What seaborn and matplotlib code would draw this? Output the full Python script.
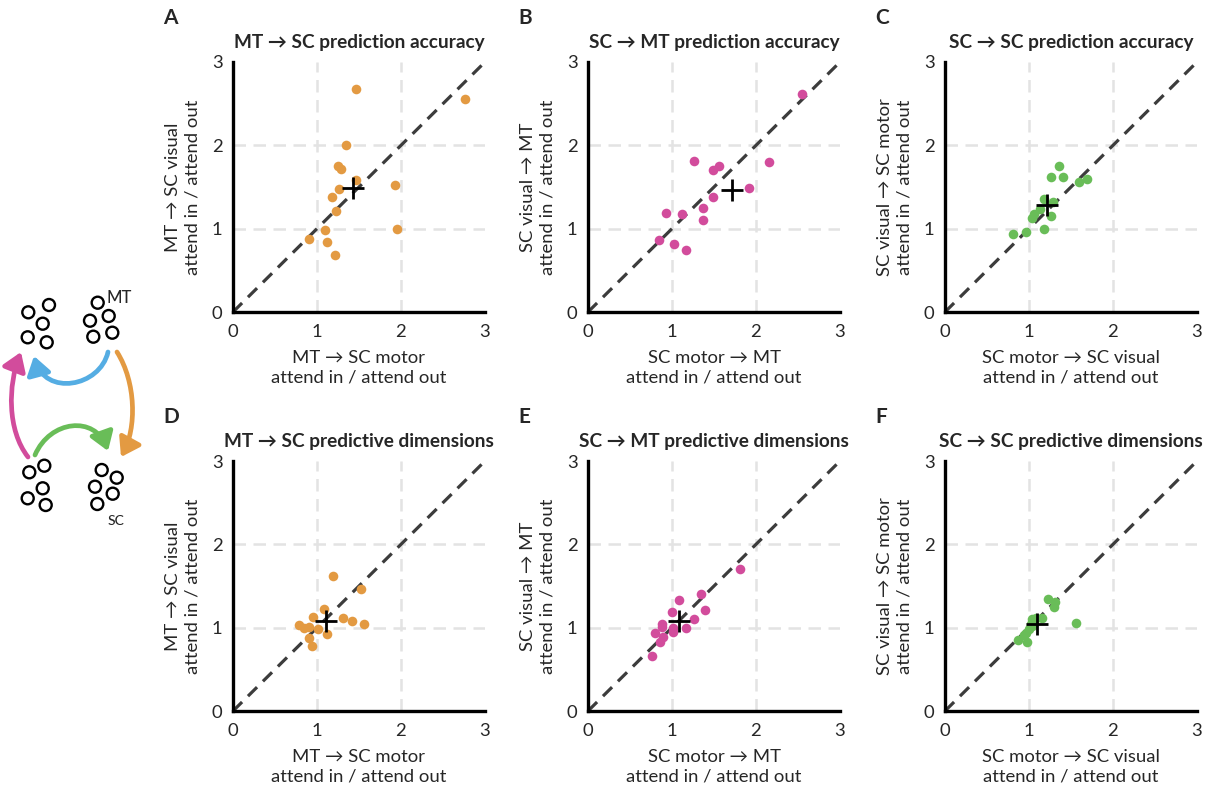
import matplotlib
matplotlib.use("Agg")
import matplotlib.pyplot as plt
import seaborn as sns
import pandas as pd
import numpy as np
from matplotlib.patches import Circle, FancyArrowPatch
from matplotlib.path import Path

sns.set_style("white")
plt.rcParams['font.family'] = ['Lato', 'DejaVu Sans']

# ---------------- data ----------------
A_x = [1.47, 2.76, 1.34, 1.25, 1.28, 1.46, 1.26, 1.93, 1.18, 1.23, 1.10, 0.90, 1.12, 1.22, 1.95]
A_y = [2.68, 2.56, 2.01, 1.75, 1.72, 1.59, 1.48, 1.53, 1.38, 1.21, 0.98, 0.88, 0.84, 0.68, 1.00]
A_mean = (1.43, 1.49)

B_x = [2.55, 1.26, 2.16, 1.49, 1.56, 1.92, 1.49, 1.37, 1.37, 0.93, 1.12, 0.84, 1.02, 1.17]
B_y = [2.62, 1.81, 1.80, 1.70, 1.75, 1.49, 1.38, 1.25, 1.10, 1.19, 1.18, 0.87, 0.82, 0.74]
B_mean = (1.71, 1.47)

C_x = [1.36, 1.26, 1.41, 1.60, 1.69, 1.18, 1.28, 1.13, 1.06, 1.04, 1.26, 1.18, 0.97, 0.81]
C_y = [1.75, 1.62, 1.62, 1.56, 1.60, 1.36, 1.32, 1.24, 1.18, 1.13, 1.15, 1.00, 0.96, 0.94]
C_mean = (1.21, 1.29)

D_x = [1.19, 1.52, 1.08, 0.95, 1.31, 1.42, 1.56, 0.78, 0.85, 0.91, 1.01, 1.12, 0.91, 0.94]
D_y = [1.62, 1.47, 1.22, 1.13, 1.12, 1.08, 1.05, 1.03, 1.00, 1.01, 0.99, 0.92, 0.88, 0.78]
D_mean = (1.11, 1.08)

E_x = [1.81, 1.35, 1.08, 1.39, 1.00, 1.26, 0.88, 0.88, 1.17, 1.01, 1.01, 0.80, 0.89, 0.86, 0.76]
E_y = [1.70, 1.41, 1.33, 1.21, 1.19, 1.10, 1.04, 1.01, 1.00, 1.00, 0.95, 0.94, 0.89, 0.83, 0.66]
E_mean = (1.08, 1.08)

F_x = [1.23, 1.31, 1.30, 1.56, 1.16, 1.04, 1.08, 1.02, 1.00, 0.97, 0.94, 0.87, 0.98, 1.04]
F_y = [1.34, 1.31, 1.25, 1.06, 1.12, 1.11, 1.12, 1.04, 0.98, 0.94, 0.91, 0.85, 0.83, 1.02]
F_mean = (1.09, 1.05)

titles = ["MT → SC prediction accuracy", "SC → MT prediction accuracy", "SC → SC prediction accuracy",
          "MT → SC predictive dimensions", "SC → MT predictive dimensions", "SC → SC predictive dimensions"]
letters = ["A", "B", "C", "D", "E", "F"]
xlabels = ["MT → SC motor\nattend in / attend out", "SC motor → MT\nattend in / attend out",
           "SC motor → SC visual\nattend in / attend out"] * 2
ylabels = ["MT → SC visual\nattend in / attend out", "SC visual → MT\nattend in / attend out",
           "SC visual → SC motor\nattend in / attend out"] * 2
ticks = [0, 1, 2, 3]

ORANGE = "#E39A42"
PINK = "#D24C9C"
GREEN = "#69BD58"
BLUE = "#55ADE3"
colors = [ORANGE, PINK, GREEN] * 2

panels = [(A_x, A_y, A_mean), (B_x, B_y, B_mean), (C_x, C_y, C_mean),
          (D_x, D_y, D_mean), (E_x, E_y, E_mean), (F_x, F_y, F_mean)]

W, H = 1211, 788
fig = plt.figure(figsize=(W / 100, H / 100), dpi=100)

# ---------------- schematic ----------------
sch = fig.add_axes([0, 0, 1, 1], zorder=0)
sch.set_xlim(0, W)
sch.set_ylim(H, 0)
sch.axis("off")

groups = [
    [(28.3, 312.3), (49, 305), (42.7, 323.7), (27.7, 337.3), (46.7, 342.3)],
    [(97.7, 302.7), (108.7, 316), (90, 320.7), (93.3, 336.7), (112.3, 332.7)],
    [(44.3, 465.7), (29.3, 472.3), (42.7, 488.3), (27.7, 498.3), (45.7, 505)],
    [(101.7, 470), (116.7, 477.7), (95, 486.7), (112.7, 493.7), (97.3, 504)],
]
for g in groups:
    for (cx, cy) in g:
        sch.add_patch(Circle((cx, cy), 6.0, fill=False, ec="black", lw=1.7))
sch.text(107, 298, "MT", fontsize=12, fontweight="medium", ha="left", va="center")
sch.text(108, 521, "SC", fontsize=10, fontweight="medium", ha="left", va="center")

curves = [
    ([(108, 352), (100, 387), (45, 397), (34, 356)], BLUE),
    ([(117, 352), (136, 382), (137, 428), (121, 457)], ORANGE),
    ([(28, 457), (7, 430), (8, 385), (21, 352)], PINK),
    ([(35, 455), (50, 420), (95, 415), (108, 451)], GREEN),
]
codes = [Path.MOVETO, Path.CURVE4, Path.CURVE4, Path.CURVE4]
for pts, c in curves:
    sch.add_patch(FancyArrowPatch(path=Path(pts, codes),
                                  arrowstyle="-|>,head_length=0.6,head_width=0.4",
                                  mutation_scale=18, lw=3.4, color=c))

# ---------------- scatter panels ----------------
lefts = [233, 588, 945]
tops = [62, 461]
aw, ah = 252, 250

for i, (xs, ys, mean) in enumerate(panels):
    r, c = divmod(i, 3)
    l = lefts[c]
    t = tops[r]
    ax = fig.add_axes([l / W, 1 - (t + ah) / H, aw / W, ah / H], zorder=1)
    df = pd.DataFrame({"x": xs, "y": ys})
    for v in [1, 2]:
        ax.axvline(v, color="#E3E3E3", lw=1.8, ls=(0, (5, 3)), zorder=0)
        ax.axhline(v, color="#E3E3E3", lw=1.8, ls=(0, (5, 3)), zorder=0)
    ax.plot([0, 3], [0, 3], color="#3C3C3C", lw=2.3, ls=(0, (4, 2.6)), zorder=1)
    sns.scatterplot(data=df, x="x", y="y", ax=ax, color=colors[i], s=48,
                    linewidth=0, zorder=2, legend=False)
    ax.plot([mean[0]], [mean[1]], marker="+", color="black", ms=16, mew=2, zorder=3)
    ax.set_xlim(0, 3)
    ax.set_ylim(0, 3)
    ax.set_xticks(ticks)
    ax.set_yticks(ticks)
    ax.set_xticklabels([str(v) for v in ticks])
    ax.set_yticklabels([str(v) for v in ticks])
    ax.tick_params(axis="both", labelsize=13.3, length=3.5, width=1.8, color="black",
                   direction="out")
    ax.tick_params(axis="x", pad=5)
    ax.tick_params(axis="y", pad=4)
    for s in ["top", "right"]:
        ax.spines[s].set_visible(False)
    for s in ["left", "bottom"]:
        ax.spines[s].set_linewidth(2.4)
        ax.spines[s].set_color("black")
    ax.set_xlabel(xlabels[i], fontsize=13.3, labelpad=7, linespacing=1.3)
    ax.set_ylabel(ylabels[i], fontsize=13.3, labelpad=8, linespacing=1.3)
    ax.set_title(titles[i], fontsize=13.7, fontweight="bold", pad=10)
    fig.text((l - 70) / W, 1 - 18 / H if r == 0 else 1 - 417 / H, letters[i],
             fontsize=15, fontweight="bold", ha="left", va="center")

fig.savefig("out.png", dpi=100)
